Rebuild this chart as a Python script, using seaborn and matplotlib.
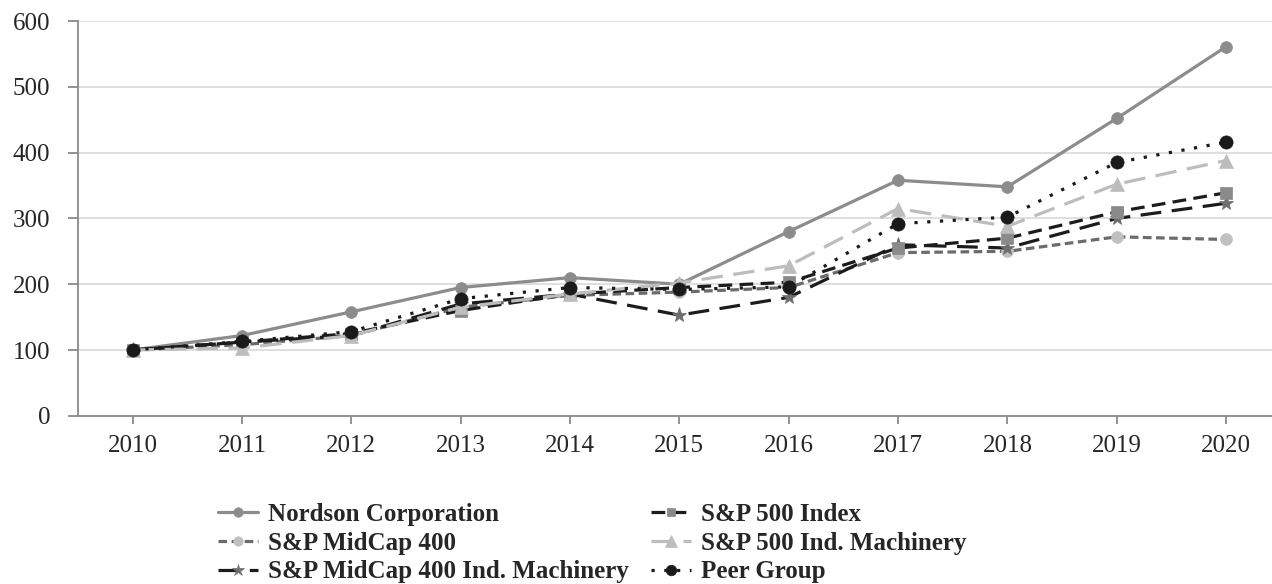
import pandas as pd
import matplotlib.pyplot as plt
import seaborn as sns

# data
years = [2010, 2011, 2012, 2013, 2014, 2015, 2016, 2017, 2018, 2019, 2020]
nordson = [100, 122, 158, 195, 210, 200, 280, 358, 348, 452, 561]
sp500 = [100, 112, 125, 160, 185, 195, 203, 255, 270, 310, 339]
midcap400 = [100, 108, 122, 165, 183, 188, 195, 248, 250, 272, 268]
sp500_mach = [100, 103, 122, 165, 185, 202, 228, 315, 288, 352, 388]
midcap_mach = [100, 112, 122, 170, 185, 153, 180, 260, 255, 300, 323]
peer = [100, 113, 128, 178, 195, 192, 196, 292, 302, 385, 416]

sns.set_style('white')
plt.rcParams['font.family'] = ['Liberation Serif', 'DejaVu Serif']

fig = plt.figure(figsize=(12.72, 5.84), dpi=100)
ax = fig.add_axes([0.0613, 0.288, 0.9387, 0.676])

# label, values, line color, dashes, marker, marker color, marker size
series = [
    ('Nordson Corporation', nordson, '#8c8c8c', '-', 'o', '#8c8c8c', 8.5),
    ('S&P MidCap 400', midcap400, '#6b6b6b', (0, (2.7, 1.4)), 'o', '#c0c0c0', 8.5),
    ('S&P MidCap 400 Ind. Machinery', midcap_mach, '#1c1c1c', (0, (6.5, 3.3)), '*', '#6e6e6e', 11),
    ('S&P 500 Index', sp500, '#1c1c1c', (0, (4.3, 2.3)), 's', '#8a8a8a', 8),
    ('S&P 500 Ind. Machinery', sp500_mach, '#bdbdbd', (0, (6.7, 3.3)), '^', '#bdbdbd', 10),
    ('Peer Group', peer, '#1a1a1a', (0, (1, 3)), 'o', '#1a1a1a', 9.5),
]

for label, vals, col, ls, mk, mcol, ms in series:
    df = pd.DataFrame({'Year': years, 'Value': vals})
    sns.lineplot(data=df, x='Year', y='Value', ax=ax, label=label, color=col,
                 linestyle=ls, linewidth=2.3, marker=mk, markersize=ms,
                 markerfacecolor=mcol, markeredgecolor=mcol, markeredgewidth=0.5)

ax.set_xlim(2009.5, 2020.42)
ax.set_ylim(0, 600)
ax.set_xticks(years)
ax.set_yticks([0, 100, 200, 300, 400, 500, 600])
ax.set_xlabel('')
ax.set_ylabel('')
ax.yaxis.grid(True, color='#dcdcdc', linewidth=1.3)
ax.set_axisbelow(True)
for s in ['top', 'right']:
    ax.spines[s].set_visible(False)
for s in ['left', 'bottom']:
    ax.spines[s].set_color('#8a8a8a')
    ax.spines[s].set_linewidth(1.3)
ax.tick_params(axis='x', direction='out', length=6, width=1.3, color='#8a8a8a',
               labelsize=18, pad=8, bottom=True)
ax.tick_params(axis='y', direction='out', length=7, width=1.3, color='#8a8a8a',
               labelsize=18, pad=13, left=True)

ax.get_legend().remove()
handles, labels = ax.get_legend_handles_labels()
fig.legend(handles, labels, loc='upper left', bbox_to_anchor=(0.171, 0.139),
           ncol=2, frameon=False, prop={'weight': 'bold', 'size': 18},
           handlelength=1.6, handletextpad=0.4, columnspacing=0.9,
           labelspacing=0.23, borderpad=0, borderaxespad=0, markerscale=0.8)

plt.savefig('out.png', dpi=100)
